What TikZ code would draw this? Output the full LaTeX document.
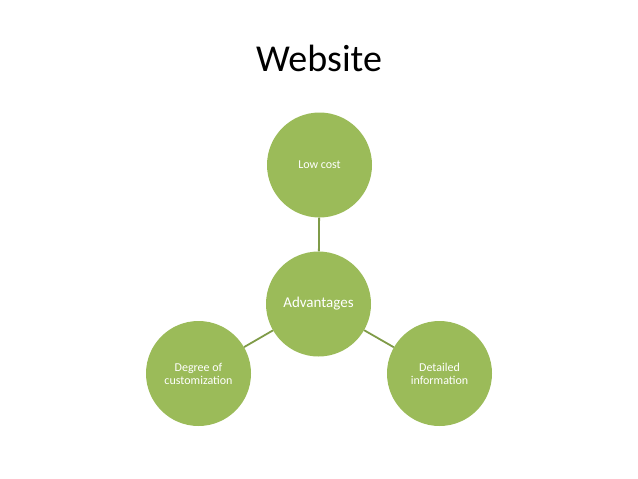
\documentclass[tikz,border=0pt]{standalone}
\usepackage{fontspec}
\setmainfont{Carlito}
\definecolor{olive}{HTML}{9BBB59}
\definecolor{oliveline}{HTML}{7F9B48}
\tikzset{
  bubble/.style={circle, fill=olive, draw=none, minimum size=105pt, inner sep=0pt, text=white, align=center, font=\fontsize{12}{13}\selectfont},
  link/.style={draw=oliveline, line width=1.8pt}
}
\begin{document}
\begin{tikzpicture}[x=1pt,y=-1pt]
\useasboundingbox (0,0) rectangle (638,479);
\node[font=\fontsize{38}{42}\selectfont, anchor=base] (title) at (319,71) {Website};
\node[bubble] (low) at (319.5,165) {Low cost};
\node[bubble, font=\fontsize{15}{17}\selectfont] (adv) at (318.5,304) {Advantages};
\node[bubble] (deg) at (198.5,373.5) {Degree of\\customization};
\node[bubble] (det) at (439.5,373.5) {Detailed\\information};
\draw[link] (adv) -- (low);
\draw[link] (adv) -- (deg);
\draw[link] (adv) -- (det);
\end{tikzpicture}
\end{document}
